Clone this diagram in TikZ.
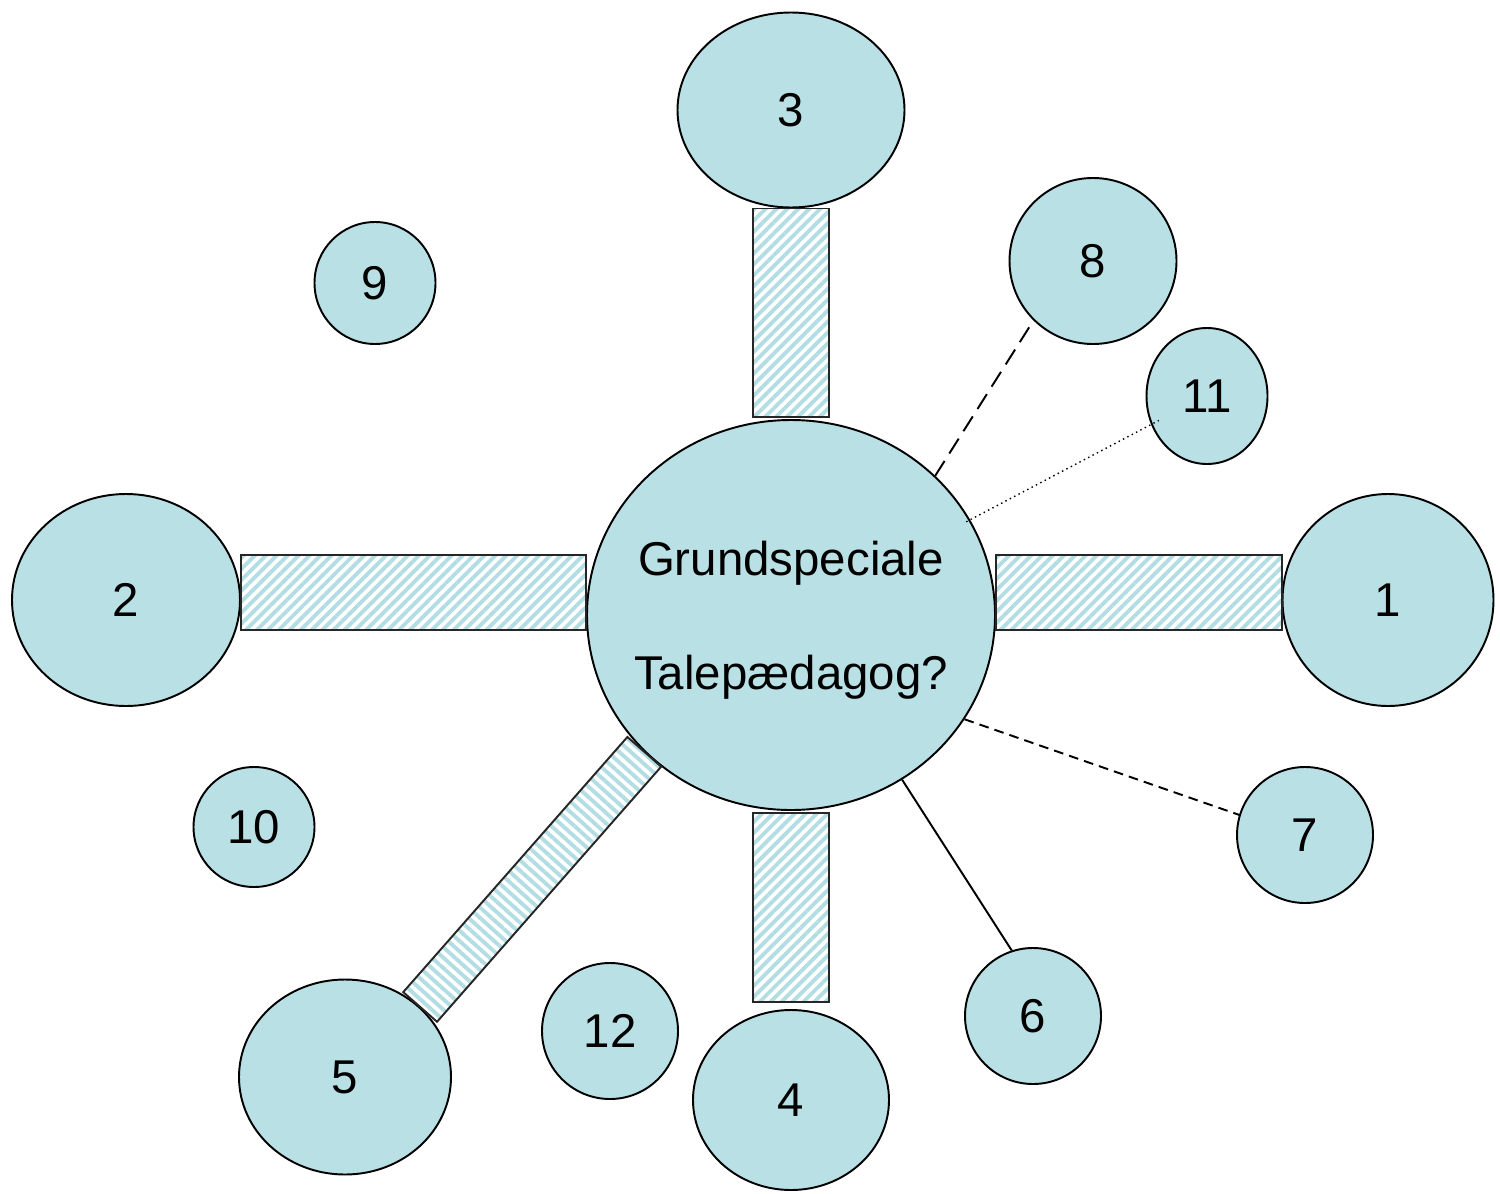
\documentclass[tikz,border=0pt]{standalone}
\usepackage{fontspec}
\setmainfont{Liberation Sans}
\usetikzlibrary{shapes.geometric, patterns.meta, calc}
\definecolor{bubblefill}{RGB}{185,224,228}
\definecolor{stripe}{RGB}{178,222,227}

\begin{document}
\begin{tikzpicture}[x=0.02cm, y=-0.02cm, font=\fontsize{27}{32}\selectfont]
        \tikzstyle{bubble} = [ellipse, draw, line width=1.1pt, fill=bubblefill, inner sep=0pt]
        \tikzstyle{bar} = [draw=black!85, line width=1.1pt, pattern={Lines[angle=45, distance=4.4pt, line width=2.2pt]}, pattern color=stripe]
        \tikzstyle{tie} = [line width=1.1pt]
        \tikzset{dims/.style 2 args={minimum width=#1*0.02cm, minimum height=#2*0.02cm}}

        \useasboundingbox (0,0) rectangle (1500,1193);

        \node [bubble, dims={408}{390}, align=center] (hub) at (791,615) {\rule{0pt}{25.5pt}\makebox[0pt]{Grundspeciale}\\[33pt]\makebox[0pt]{Talepædagog?}};
        \node [bubble, dims={211}{212}] (c1) at (1388,600) {1};
        \node [bubble, dims={228}{212}] (c2) at (126,600) {2};
        \node [bubble, dims={227}{195}] (c3) at (791,110) {3};
        \node [bubble, dims={196}{180}] (c4) at (791,1100) {4};
        \node [bubble, dims={212}{195}] (c5) at (345,1077) {5};
        \node [bubble, dims={136}{136}] (c6) at (1033,1016) {6};
        \node [bubble, dims={136}{136}] (c7) at (1305,835) {7};
        \node [bubble, dims={167}{166}] (c8) at (1093,261) {8};
        \node [bubble, dims={121}{122}] (c9) at (375,283) {9};
        \node [bubble, dims={121}{120}] (c10) at (254,827) {10};
        \node [bubble, dims={121}{136}] (c11) at (1207,396) {11};
        \node [bubble, dims={136}{136}] (c12) at (610,1031) {12};

        % hatched bars
        \draw [bar] ($(c3.south)+(-38,0)$) rectangle ($(hub.north)+(38,-2)$);
        \draw [bar] ($(hub.south)+(-38,2)$) rectangle ($(c4.north)+(38,-7)$);
        \draw [bar] ($(c2.east)+(0,-45)$) rectangle ($(hub.west)+(0,15)$);
        \draw [bar] ($(hub.east)+(0,15)$) rectangle ($(c1.west)+(0,-45)$);
        \draw [bar, pattern={Lines[angle=-42, distance=4.4pt, line width=2.2pt]}]
            ($(hub.223)!0.45cm!90:(c5.43)$) -- ($(hub.223)!0.45cm!-90:(c5.43)$)
            -- ($(c5.43)!0.45cm!90:(hub.223)$) -- ($(c5.43)!0.45cm!-90:(hub.223)$) -- cycle;

        % thin links
        \draw [tie, dash pattern=on 10pt off 5pt] (hub.44) -- (c8.225);
        \draw [line width=0.8pt, dash pattern=on 0.8pt off 2pt, shorten <=-2.5pt, shorten >=-5pt] (hub.28) -- (c11.207);
        \draw [tie, dash pattern=on 5.5pt off 3.5pt] (hub.-31) -- (c7.163);
        \draw [tie] (hub.-56) -- (c6.108);
    \end{tikzpicture}
\end{document}
